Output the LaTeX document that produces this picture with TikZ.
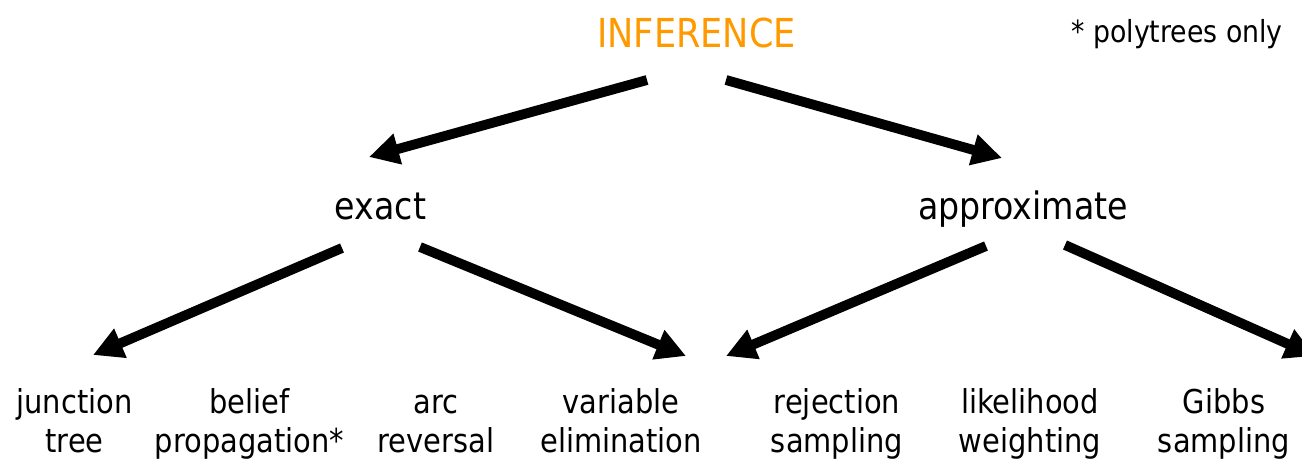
\documentclass[tikz,border=0pt]{standalone}
\usepackage{fontspec}
\setmainfont{DejaVu Sans}[FakeStretch=0.88]
\usetikzlibrary{arrows.meta}
\definecolor{inforange}{RGB}{255,153,0}
\begin{document}
\begin{tikzpicture}[x=0.02cm, y=-0.02cm]
    \tikzstyle{line} = [-{Triangle[length=17pt, width=17pt]}, line width=5.6pt]
    \tikzstyle{top} = [inner sep=0pt, anchor=base,
        font=\fontsize{22.7pt}{27pt}\selectfont]
    \tikzstyle{mid} = [inner sep=0pt, anchor=base,
        font=\fontsize{21.5pt}{26pt}\selectfont]
    \tikzstyle{leaf} = [inner sep=0pt, anchor=base, align=center,
        font=\fontsize{18.7pt}{22.1pt}\selectfont]

    \useasboundingbox (0,0) rectangle (1302,458);

    \node(inference) [top, text=inforange] at (696.5,47) {INFERENCE};
    \node(polynote) [inner sep=0pt, anchor=base,
        font=\fontsize{17.3pt}{20pt}\selectfont]
        at (1177,42) {* polytrees only};
    \node(exact) [mid] at (380.5,219) {exact};
    \node(approximate) [mid] at (1023,219) {approximate};

    \node(junctiontree) [leaf] at (74.5,452) {junction\\ tree};
    \node(beliefprop) [leaf] at (249.5,452) {belief\\ propagation*};
    \node(arcreversal) [leaf] at (436,452) {arc\\ reversal};
    \node(varelim) [leaf] at (621,452) {variable\\ elimination};
    \node(rejection) [leaf] at (837,452) {rejection\\ sampling};
    \node(likelihood) [leaf] at (1030,452) {likelihood\\ weighting};
    \node(gibbs) [leaf] at (1224,452) {Gibbs\\ sampling};

    % arrow end points
    \coordinate (inferenceleft) at (647,80);
    \coordinate (inferenceright) at (726,80);
    \coordinate (exacttop) at (369,157);
    \coordinate (approxtop) at (1002,158);
    \coordinate (exactleft) at (342,248);
    \coordinate (exactright) at (420,247);
    \coordinate (approxleft) at (986,246);
    \coordinate (approxright) at (1065,245);
    \coordinate (junctiontop) at (93,355);
    \coordinate (elimtop) at (686,356);
    \coordinate (samplingtop) at (726,356);
    \coordinate (gibbstop) at (1315,356);

    \draw[line] (inferenceleft) -- (exacttop);
    \draw[line] (inferenceright) -- (approxtop);
    \draw[line] (exactleft) -- (junctiontop);
    \draw[line] (exactright) -- (elimtop);
    \draw[line] (approxleft) -- (samplingtop);
    \draw[line] (approxright) -- (gibbstop);
\end{tikzpicture}
\end{document}
